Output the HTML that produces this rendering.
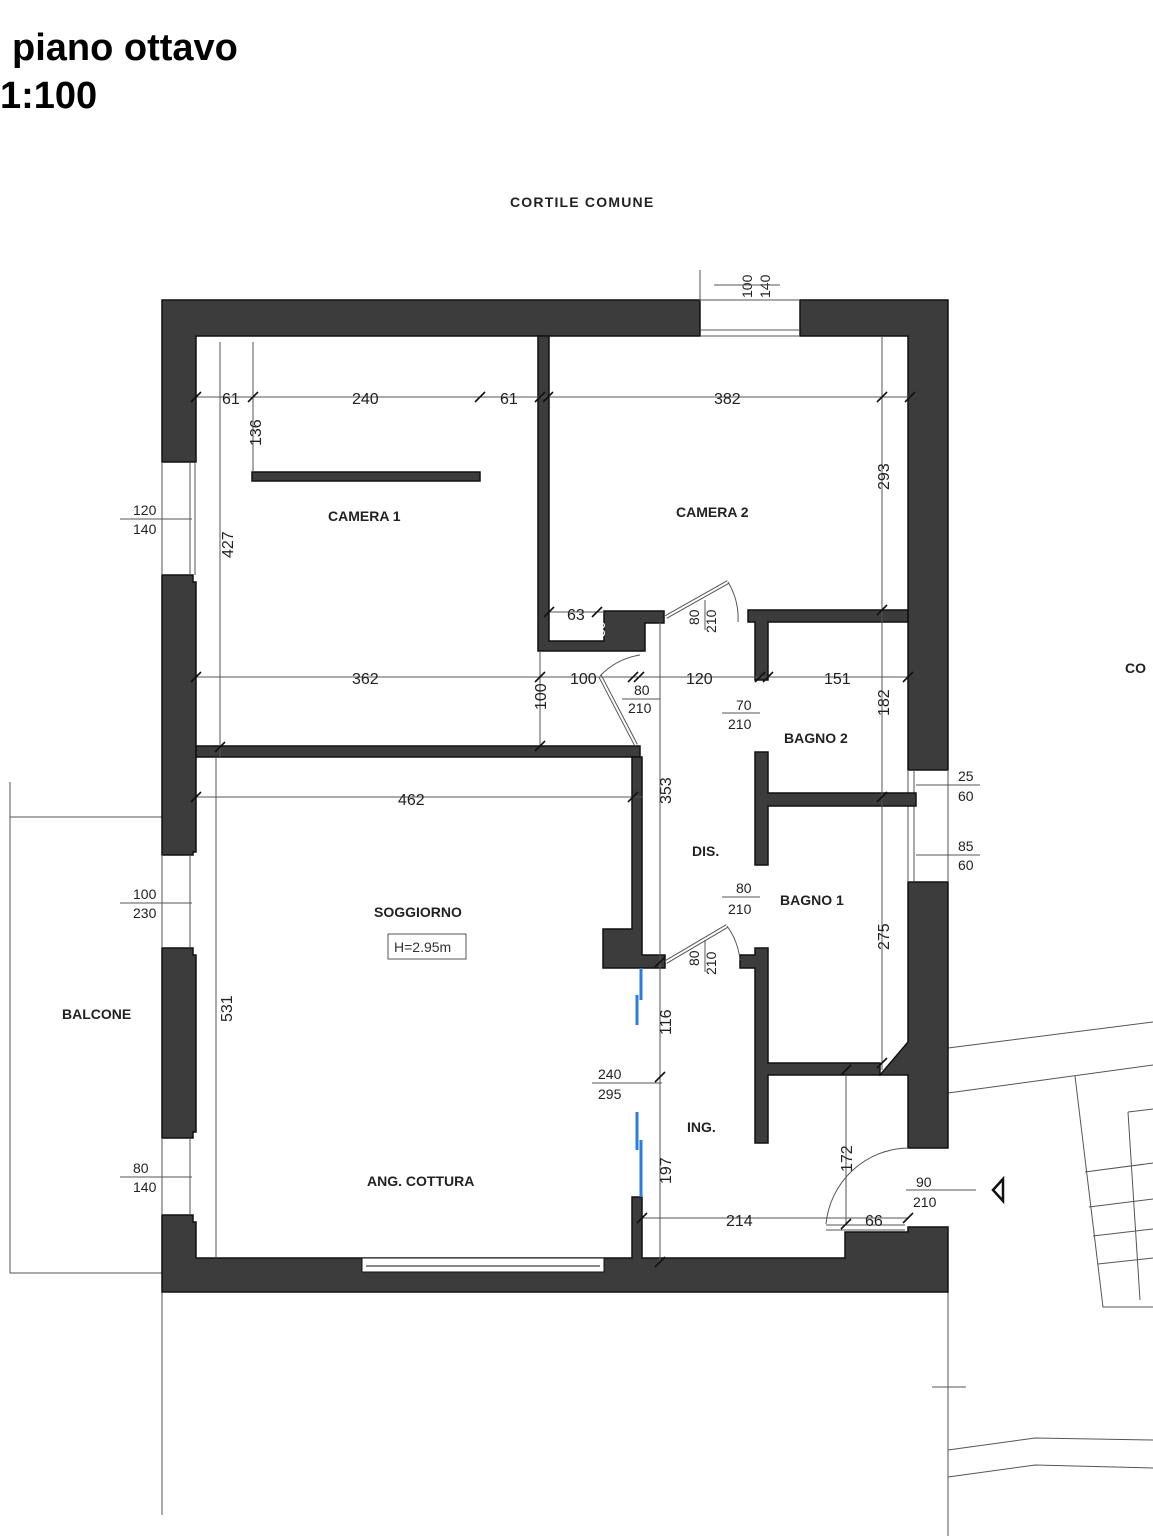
<!DOCTYPE html>
<html><head><meta charset="utf-8"><style>
html,body{margin:0;padding:0;background:#fff;}
svg{display:block;}
text{font-family:"Liberation Sans",sans-serif;}
.d{font-size:16px;fill:#222;}
.r{font-size:14px;font-weight:bold;fill:#222;}
.w{fill:#3c3c3c;stroke:#111;stroke-width:1.5;}
.l{stroke:#555;stroke-width:1;fill:none;}
.t{stroke:#111;stroke-width:1.6;}
</style></head><body>
<svg width="1153" height="1536" viewBox="0 0 1153 1536" xmlns="http://www.w3.org/2000/svg">
<text x="12" y="60" style="font-size:38px;font-weight:bold">piano ottavo</text>
<text x="0" y="108" style="font-size:38px;font-weight:bold">1:100</text>
<text x="510" y="207" class="r" style="letter-spacing:1.2px">CORTILE COMUNE</text>
<text x="1125" y="673" class="r">CO</text>

<!-- balcony & external lines -->
<path class="l" d="M10 782 V1273 H162 M10 817 H162 M162 1292 V1515 M948 1292 V1536 M932 1387 H966"/>
<path class="l" d="M948 1048 L1153 1022 M948 1093 L1153 1065 M1075 1076 L1103 1307 H1153 M1085 1172 L1153 1163 M1089 1207 L1153 1199 M1093 1236 L1153 1229 M1098 1264 L1153 1258 M1128 1112 L1153 1109 M1128 1112 L1140 1300 M948 1450 L1035 1438 L1153 1440 M948 1477 L1035 1465 L1153 1468"/>

<!-- outer walls -->
<path class="w" d="M162 300 H700 V336 H196 V462 H162 Z"/>
<path class="w" d="M800 300 H948 V770 H908 V336 H800 Z"/>
<path class="w" d="M162 575 H193 V582 H196 V852 H193 V855 H162 Z"/>
<path class="w" d="M162 948 H193 V955 H196 V1132 H193 V1138 H162 Z"/>
<path class="w" d="M162 1215 H193 V1222 H196 V1258 H632 V1197 H642 V1258 H845 V1232 H908 V1227 H948 V1292 H162 Z"/>
<path class="w" d="M908 882 H948 V1148 H908 V1075 H880 L908 1042 Z"/>
<rect x="362" y="1258" width="242" height="14" fill="#fff" stroke="#111"/>
<line x1="366" y1="1266" x2="600" y2="1266" stroke="#111"/>
<!-- windows -->
<path class="l" d="M700 300 H800 M700 336 H800 M700 330 H800 M162 462 V575 M190 462 V575 M195 462 V575 M162 855 V948 M190 855 V948 M162 1138 V1215 M190 1138 V1215 M908 770 V882 M914 770 V882 M948 770 V882"/>

<!-- interior walls -->
<path class="w" d="M538 336 H549 V641 H604 V611 H664 V623 H645 V651 H538 Z"/>
<path class="w" d="M748 610 H908 V622 H768 V680 H755 V622 H748 Z"/>
<path class="w" d="M196 746 H640 V757 H196 Z"/>
<path class="w" d="M632 757 H642 V955 H665 V968 H603 V929 H632 Z"/>
<path class="w" d="M755 752 H768 V793 H916 V806 H768 V865 H755 Z"/>
<path class="w" d="M740 955 H755 V948 H768 V1063 H880 V1075 H768 V1143 H755 V968 H740 Z"/>
<rect x="252" y="472" width="228" height="9" class="w"/>

<!-- sliding door blue -->
<path stroke="#2a7de1" stroke-width="3" d="M641 968 V1000 M637 995 V1025 M637 1112 V1150 M641 1140 V1197"/>

<!-- doors -->
<path stroke="#555" stroke-width="4" fill="none" d="M666 617 L728 582 M636 745 L600 676 M666 962 L727 926"/>
<path stroke="#fff" stroke-width="2" fill="none" d="M666 617 L728 582 M636 745 L600 676 M666 962 L727 926"/>
<path class="l" d="M728 582 A70 70 0 0 1 738 622 M600 676 A70 70 0 0 1 640 655 M727 926 A70 70 0 0 1 740 960 M908 1148 A84 84 0 0 0 826 1224 M826 1225 H905 M826 1230 H905"/>

<!-- dimension lines -->
<path class="l" d="M196 397 H910 M253 342 V472 M220 342 V757 M196 677 H908 M540 651 V746 M196 797 H642 M882 336 V1070 M660 622 V1262 M642 1218 H908 M846 1075 V1224 M216 757 V1258 M549 612 H604"/>
<path class="t" d="M191 402 L201 392 M248 402 L258 392 M475 402 L485 392 M535 402 L545 392 M543 402 L553 392 M877 402 L887 392 M905 402 L915 392 M191 682 L201 672 M535 682 L545 672 M628 682 L638 672 M634 682 L644 672 M755 682 L765 672 M763 682 L773 672 M903 682 L913 672 M191 802 L201 792 M628 802 L638 792 M877 615 L887 605 M877 802 L887 792 M877 1068 L887 1058 M655 1082 L665 1072 M655 1267 L665 1257 M841 1229 L851 1219 M903 1223 L913 1213 M637 1223 L647 1213 M215 752 L225 742 M535 751 L545 741 M841 1075 L851 1065 M655 967 L665 957 M544 617 L554 607 M592 617 L602 607"/>

<!-- dimension labels -->
<g class="d">
<text x="222" y="404">61</text>
<text x="352" y="404">240</text>
<text x="500" y="404">61</text>
<text x="714" y="404">382</text>
<text x="352" y="684">362</text>
<text x="570" y="684">100</text>
<text x="686" y="684">120</text>
<text x="824" y="684">151</text>
<text x="398" y="805">462</text>
<text x="726" y="1226">214</text>
<text x="865" y="1226">66</text>
<text x="567" y="620">63</text>
<text transform="translate(261,446) rotate(-90)">136</text>
<text transform="translate(233,558) rotate(-90)">427</text>
<text transform="translate(232,1022) rotate(-90)">531</text>
<text transform="translate(546,710) rotate(-90)">100</text>
<text transform="translate(889,490) rotate(-90)">293</text>
<text transform="translate(889,716) rotate(-90)">182</text>
<text transform="translate(889,950) rotate(-90)">275</text>
<text transform="translate(671,804) rotate(-90)">353</text>
<text transform="translate(671,1035) rotate(-90)">116</text>
<text transform="translate(671,1184) rotate(-90)">197</text>
<text transform="translate(852,1172) rotate(-90)">172</text>
<text transform="translate(605,637) rotate(-90)" style="font-size:14px;fill:#fff">30</text>
</g>
<g style="font-size:14px;fill:#222">
<text transform="translate(752,298) rotate(-90)">100</text>
<text transform="translate(770,298) rotate(-90)">140</text>
<text x="133" y="515">120</text><text x="133" y="534">140</text>
<text x="133" y="899">100</text><text x="133" y="918">230</text>
<text x="133" y="1173">80</text><text x="133" y="1192">140</text>
<text x="958" y="781">25</text><text x="958" y="801">60</text>
<text x="958" y="851">85</text><text x="958" y="870">60</text>
<text x="916" y="1187">90</text><text x="913" y="1207">210</text>
<text x="598" y="1079">240</text><text x="598" y="1099">295</text>
<text x="634" y="695">80</text><text x="628" y="713">210</text>
<text x="736" y="710">70</text><text x="728" y="729">210</text>
<text x="736" y="893">80</text><text x="728" y="914">210</text>
<text transform="translate(699,625) rotate(-90)">80</text>
<text transform="translate(716,633) rotate(-90)">210</text>
<text transform="translate(699,966) rotate(-90)">80</text>
<text transform="translate(716,975) rotate(-90)">210</text>
</g>
<path class="l" d="M120 519 H192 M120 903 H192 M120 1177 H192 M916 785 H980 M916 855 H980 M906 1190 H976 M592 1083 H662 M622 699 H660 M722 713 H760 M722 897 H760 M705 600 V630 M705 940 V972 M700 301 V270 M714 285 H780"/>
<path stroke="#111" stroke-width="2.5" fill="none" d="M1003 1179 L993 1190 L1003 1201 Z"/>

<!-- room labels -->
<g class="r">
<text x="328" y="521">CAMERA 1</text>
<text x="676" y="517">CAMERA 2</text>
<text x="784" y="743">BAGNO 2</text>
<text x="780" y="905">BAGNO 1</text>
<text x="692" y="856">DIS.</text>
<text x="687" y="1132">ING.</text>
<text x="374" y="917">SOGGIORNO</text>
<text x="367" y="1186">ANG. COTTURA</text>
<text x="62" y="1019">BALCONE</text>
</g>
<rect x="388" y="934" width="78" height="25" fill="none" stroke="#555"/>
<text x="394" y="952" style="font-size:14px;fill:#333">H=2.95m</text>
</svg>
</body></html>
